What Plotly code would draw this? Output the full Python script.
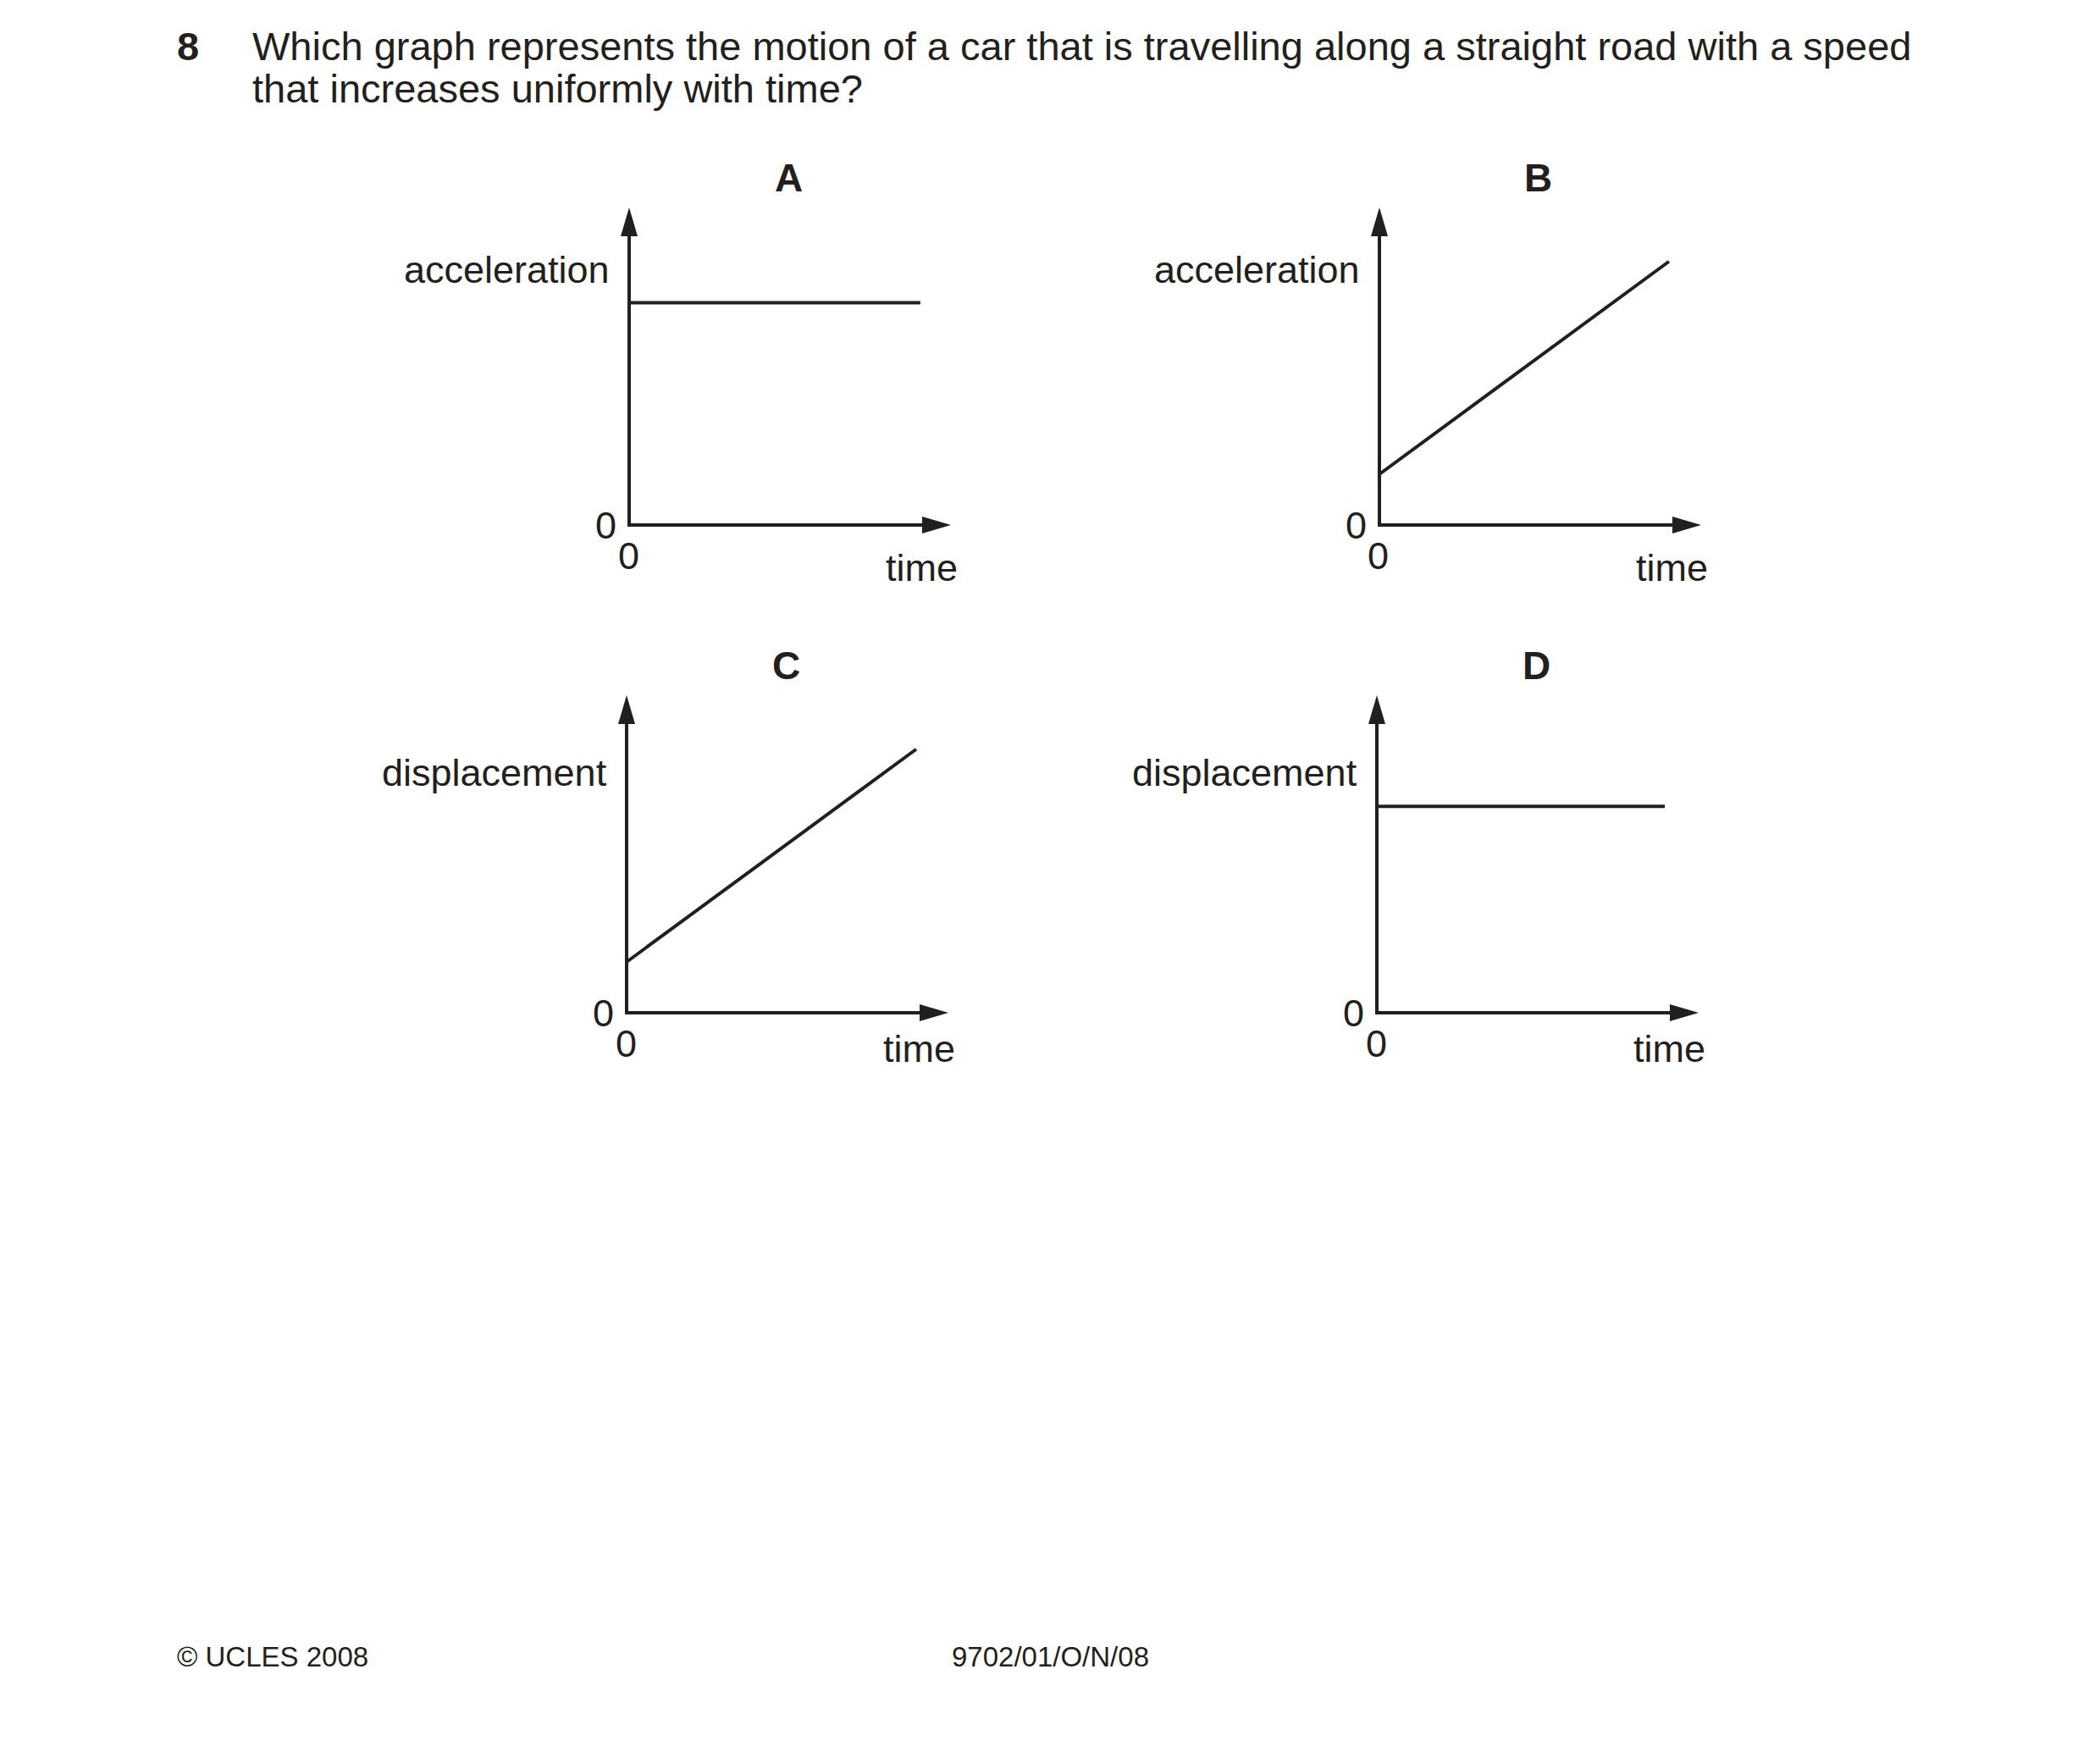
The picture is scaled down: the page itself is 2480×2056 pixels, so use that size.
import plotly.graph_objects as go

# ---------------- data ----------------
question_number = "8"
question_line_1 = "Which graph represents the motion of a car that is travelling along a straight road with a speed"
question_line_2 = "that increases uniformly with time?"

panel_letters = ["A", "B", "C", "D"]
y_labels = ["acceleration", "acceleration", "displacement", "displacement"]
x_label = "time"
zero_label = "0"

# each graph: time values and quantity values (axis arrow tips are at 10)
times_A = [0, 9.05]
values_A = [7.0, 7.0]
times_B = [0, 9.0]
values_B = [1.6, 8.3]
times_C = [0, 9.0]
values_C = [1.6, 8.3]
times_D = [0, 8.95]
values_D = [6.5, 6.5]
axis_tip = 10

footer_left = "© UCLES 2008"
footer_center = "9702/01/O/N/08"

# ---------------- layout constants ----------------
W, H = 2480, 2056
INK = "#231f20"
FONT = "Liberation Sans, Arial, Helvetica, sans-serif"

origins = [(743, 620), (1629, 620), (740, 1196), (1626, 1196)]  # pixel origin of each graph
XLEN, YLEN = 380, 375  # pixel length of the axes (origin to arrow tip)
PAD = 1.0  # data units of padding around the axes
ylabel_shift = [302, 302, 284, 284]
time_shift = [-50, -50, -42, -42]
LW = 4.0

series = [(times_A, values_A), (times_B, values_B), (times_C, values_C), (times_D, values_D)]

fig = go.Figure()
layout = dict(
    width=W, height=H, autosize=False,
    margin=dict(l=0, r=0, t=0, b=0),
    paper_bgcolor="white", plot_bgcolor="rgba(0,0,0,0)",
    showlegend=False,
    font=dict(family=FONT, color=INK),
)
annotations = []
shapes = []

for i, ((ox, oy), (tx, ty)) in enumerate(zip(origins, series)):
    n = "" if i == 0 else str(i + 1)
    xr, yr = "x" + n, "y" + n
    pxu = XLEN / axis_tip
    pyu = YLEN / axis_tip
    x0p = ox - PAD * pxu
    x1p = ox + XLEN + PAD * pxu
    ytop = oy - YLEN - PAD * pyu
    ybot = oy + PAD * pyu
    layout["xaxis" + n] = dict(domain=[x0p / W, x1p / W], range=[-PAD, axis_tip + PAD],
                               visible=False, fixedrange=True, anchor=yr)
    layout["yaxis" + n] = dict(domain=[1 - ybot / H, 1 - ytop / H], range=[-PAD, axis_tip + PAD],
                               visible=False, fixedrange=True, anchor=xr)

    fig.add_trace(go.Scatter(x=tx, y=ty, mode="lines", xaxis=xr, yaxis=yr,
                             line=dict(color=INK, width=LW), hoverinfo="skip"))

    # axes
    e = axis_tip - 0.6
    shapes.append(dict(type="path", xref=xr, yref=yr,
                       path=f"M 0,{e} L 0,0 L {e},0",
                       line=dict(color=INK, width=LW), layer="above"))
    shapes.append(dict(type="path", xref=xr, yref=yr, xsizemode="pixel", ysizemode="pixel",
                       xanchor=0, yanchor=axis_tip,
                       path="M 0,0 L -10,-34 L 10,-34 Z",
                       fillcolor=INK, line=dict(width=0), layer="above"))
    shapes.append(dict(type="path", xref=xr, yref=yr, xsizemode="pixel", ysizemode="pixel",
                       xanchor=axis_tip, yanchor=0,
                       path="M 0,0 L -34,10 L -34,-10 Z",
                       fillcolor=INK, line=dict(width=0), layer="above"))

    # labels
    annotations.append(dict(xref=xr, yref=yr, x=0, y=0, xshift=188, yshift=410,
                            text=f"<b>{panel_letters[i]}</b>", showarrow=False,
                            xanchor="center", yanchor="middle",
                            font=dict(size=46, family=FONT, color=INK)))
    annotations.append(dict(xref=xr, yref=yr, x=0, y=0, xshift=-21, yshift=ylabel_shift[i],
                            text=y_labels[i], showarrow=False,
                            xanchor="right", yanchor="middle",
                            font=dict(size=45, family=FONT, color=INK)))
    annotations.append(dict(xref=xr, yref=yr, x=0, y=0, xshift=-13, yshift=0,
                            text=zero_label, showarrow=False,
                            xanchor="right", yanchor="middle",
                            font=dict(size=45, family=FONT, color=INK)))
    annotations.append(dict(xref=xr, yref=yr, x=0, y=0, xshift=-1, yshift=-36,
                            text=zero_label, showarrow=False,
                            xanchor="center", yanchor="middle",
                            font=dict(size=45, family=FONT, color=INK)))
    annotations.append(dict(xref=xr, yref=yr, x=axis_tip, y=0, xshift=10, yshift=time_shift[i],
                            text=x_label, showarrow=False,
                            xanchor="right", yanchor="middle",
                            font=dict(size=45, family=FONT, color=INK)))

# question text
annotations.append(dict(xref="paper", yref="paper", x=207 / W, y=1 - 54 / H,
                        text=f"<b>{question_number}</b>", showarrow=False,
                        xanchor="left", yanchor="middle",
                        font=dict(size=47, family=FONT, color=INK)))
annotations.append(dict(xref="paper", yref="paper", x=296 / W, y=1 - 54 / H,
                        text=question_line_1, showarrow=False,
                        xanchor="left", yanchor="middle",
                        font=dict(size=47, family=FONT, color=INK)))
annotations.append(dict(xref="paper", yref="paper", x=296 / W, y=1 - 104 / H,
                        text=question_line_2, showarrow=False,
                        xanchor="left", yanchor="middle",
                        font=dict(size=47, family=FONT, color=INK)))

# footer
annotations.append(dict(xref="paper", yref="paper", x=207 / W, y=1 - 1956 / H,
                        text=footer_left, showarrow=False,
                        xanchor="left", yanchor="middle",
                        font=dict(size=33, family=FONT, color=INK)))
annotations.append(dict(xref="paper", yref="paper", x=1240 / W, y=1 - 1956 / H,
                        text=footer_center, showarrow=False,
                        xanchor="center", yanchor="middle",
                        font=dict(size=33, family=FONT, color=INK)))

layout["annotations"] = annotations
layout["shapes"] = shapes
fig.update_layout(**layout)

fig.write_html("out.html", config={"displayModeBar": False},
               post_script="document.body.style.margin='0';document.body.style.overflow='hidden';")
